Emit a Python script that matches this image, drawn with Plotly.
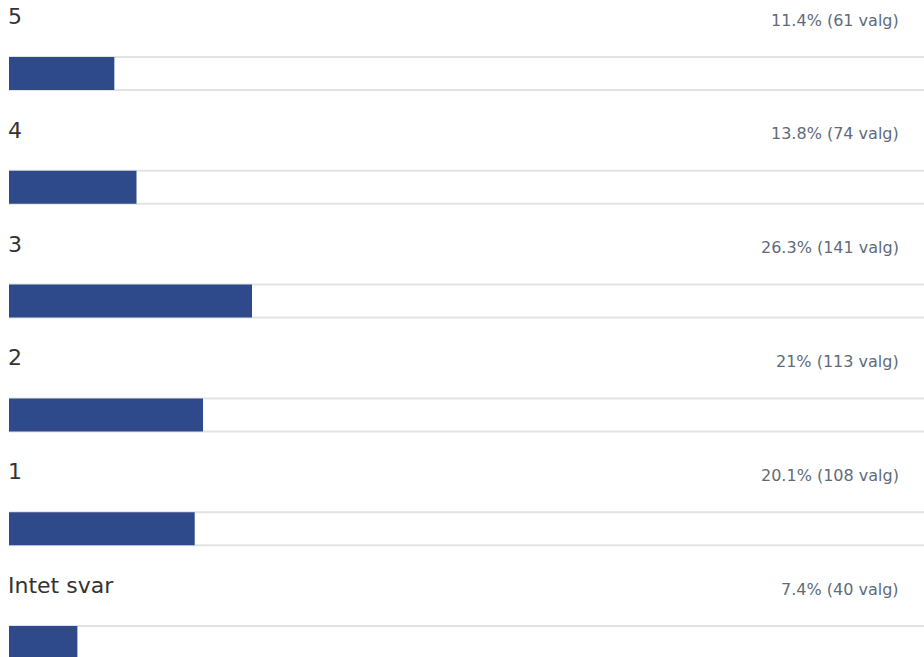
import plotly.graph_objects as go

categories = ["5", "4", "3", "2", "1", "Intet svar"]
percents = [11.4, 13.8, 26.3, 21, 20.1, 7.4]
counts = [61, 74, 141, 113, 108, 40]

W, H = 924, 657
left = 9
pitch = 113.8
first_center = 73.5
bar_h = 33 / pitch

rows = list(range(len(categories)))
y_top = -first_center / pitch
y_bot = (H - first_center) / pitch
x_max = (W - left) / 924 * 100

fig = go.Figure()
fig.add_trace(go.Bar(
    x=[100] * len(categories), y=rows, orientation="h", width=bar_h,
    marker=dict(color="white", line=dict(color="#e3e3e3", width=2)),
    hoverinfo="skip", showlegend=False))
fig.add_trace(go.Bar(
    x=percents, y=rows, orientation="h", width=bar_h,
    marker=dict(color="#2e4a8a", line=dict(width=0)),
    customdata=counts,
    hovertemplate="%{x}% (%{customdata} valg)<extra></extra>",
    showlegend=False))

for i, (cat, p, c) in enumerate(zip(categories, percents, counts)):
    fig.add_annotation(
        x=0, xref="paper", xanchor="left", xshift=-3,
        y=i - (first_center - 16.5) / pitch, yref="y", yanchor="middle",
        text=cat, showarrow=False,
        font=dict(family="DejaVu Sans", size=22, color="#333333"))
    fig.add_annotation(
        x=(901 - left) / (W - left), xref="paper", xanchor="right",
        y=i - (first_center - 20) / pitch, yref="y", yanchor="middle",
        text=f"{p:g}% ({c} valg)", showarrow=False,
        font=dict(family="DejaVu Sans", size=16, color="#5f6b7a"))

fig.update_layout(
    width=W, height=H,
    margin=dict(l=left, r=0, t=0, b=0),
    paper_bgcolor="white", plot_bgcolor="white",
    barmode="overlay", barcornerradius=3,
    xaxis=dict(range=[0, x_max], visible=False, fixedrange=True),
    yaxis=dict(range=[y_bot, y_top], visible=False, fixedrange=True),
)

fig.write_html(
    "out.html",
    config={"displayModeBar": False},
    post_script="document.body.style.margin='0';document.body.style.overflow='hidden';",
)
